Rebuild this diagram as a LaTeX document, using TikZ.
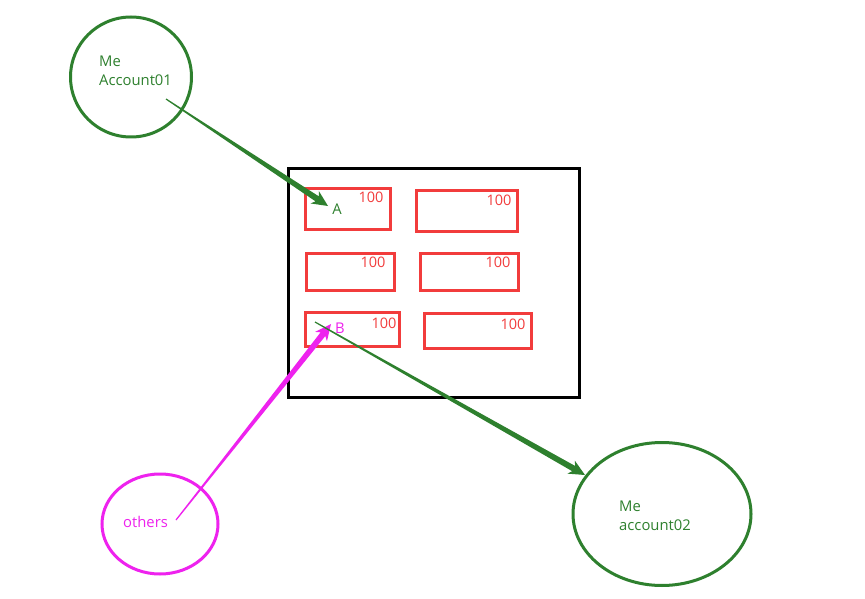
\documentclass[tikz,border=0pt]{standalone}
\usepackage{fontspec}
\setmainfont{Open Sans}
\usetikzlibrary{calc,shapes.geometric}
\definecolor{mygreen}{RGB}{46,128,46}
\definecolor{mymag}{RGB}{238,34,238}
\definecolor{myred}{RGB}{242,60,60}
\newcommand\taperarrow[3]{%
  \fill[#3] ($(#1)!0.6pt!90:(#2)$)
    -- ($($(#2)!13pt!(#1)$)!3pt!90:(#2)$)
    -- ($($(#2)!16pt!(#1)$)!7.5pt!90:(#2)$)
    -- (#2)
    -- ($($(#2)!16pt!(#1)$)!7.5pt!-90:(#2)$)
    -- ($($(#2)!13pt!(#1)$)!3pt!-90:(#2)$)
    -- ($(#1)!0.6pt!-90:(#2)$) -- cycle;}
\begin{document}
\begin{tikzpicture}[x=1pt,y=-1pt,
  circ/.style={draw,ellipse,line width=3pt,inner sep=0pt},
  acct/.style={draw=myred,line width=3pt},
  lbl/.style={font=\fontsize{14.8}{19.5}\selectfont,inner sep=0pt,anchor=west,align=left},
  num/.style={font=\fontsize{14.5}{16}\selectfont,text=myred,inner sep=0pt}]
\useasboundingbox[fill=white] (0,0) rectangle (865,599);
% circles
\node[circ,draw=mygreen,minimum width=121pt,minimum height=120pt] (me1) at (131,77) {};
\node[lbl,text=mygreen] (me1t) at (99,71) {Me\\Account01};
\node[circ,draw=mymag,minimum width=116pt,minimum height=100pt] (oth) at (160,524) {};
\node[lbl,text=mymag] (otht) at (123,522) {others};
\node[circ,draw=mygreen,minimum width=178pt,minimum height=143pt] (me2) at (662,514) {};
\node[lbl,text=mygreen] (me2t) at (619,516) {Me\\account02};
% big box
\draw[line width=3pt] (288,169) rectangle (579,397);
% account boxes
\draw[acct] (305,188) rectangle (390,229);
\draw[acct] (416,190) rectangle (517,231);
\draw[acct] (306,253) rectangle (394,290);
\draw[acct] (420,253) rectangle (518,290);
\draw[acct] (305,312) rectangle (399,346);
\draw[acct] (424,313) rectangle (531,348);
\node[num] (n1) at (371,197) {100};
\node[num] (n2) at (499,200) {100};
\node[num] (n3) at (373,262) {100};
\node[num] (n4) at (498,262) {100};
\node[num] (n5) at (384,323) {100};
\node[num] (n6) at (513,324) {100};
\node[lbl,text=mygreen,anchor=center] (A) at (337,209) {A};
\node[lbl,text=mymag,anchor=center] (B) at (340,328) {B};
% arrows
\coordinate (s1) at (166,99);
\coordinate (e1) at (328,206);
\coordinate (s2) at (176,520);
\coordinate (e2) at (331,324);
\coordinate (s3) at (315,322);
\coordinate (e3) at (585,475);
\taperarrow{s1}{e1}{mygreen}
\taperarrow{s2}{e2}{mymag}
\taperarrow{s3}{e3}{mygreen}
\end{tikzpicture}
\end{document}
